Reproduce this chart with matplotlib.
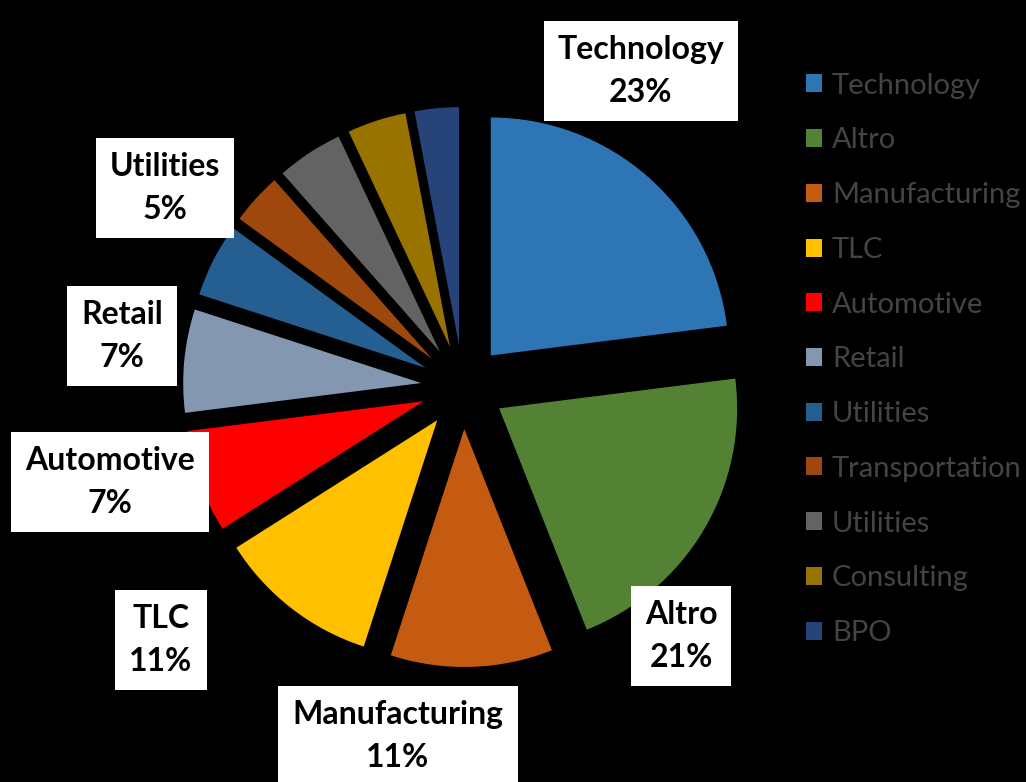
import matplotlib
matplotlib.use("Agg")
import matplotlib.pyplot as plt

# ---- data -------------------------------------------------------------
sectors = ["Technology", "Altro", "Manufacturing", "TLC", "Automotive", "Retail",
           "Utilities", "Transportation", "Utilities", "Consulting", "BPO"]
shares = [23, 21, 11, 11, 7, 7, 5, 3.5, 4.5, 4, 3]
colors = ["#2E75B6", "#548235", "#C55A11", "#FFC000", "#FF0000", "#8497B0",
          "#255E91", "#9E480E", "#636363", "#997300", "#264478"]
n_labelled = 7  # only the first seven slices carry a data label

# ---- layout (pixel space) ---------------------------------------------
W, H = 1026, 782
CX, CY = 463, 387      # pie centre, measured from the top-left
RADIUS = 238
EXPLODE = 42
label_xy = [(641, 71), (681, 636), (398, 736), (161, 640),
            (110, 482), (122, 336), (165, 188)]

plt.rcParams["font.family"] = ["Lato", "DejaVu Sans"]

fig = plt.figure(figsize=(W / 100, H / 100), dpi=100, facecolor="black")
ax = fig.add_axes([0, 0, 1, 1])
ax.set_facecolor("black")

wedges, _ = ax.pie(shares, colors=colors, startangle=90, counterclock=False,
                   radius=RADIUS, center=(CX, H - CY),
                   explode=[EXPLODE] * len(shares),
                   wedgeprops=dict(linewidth=0))
ax.set_xlim(0, W)
ax.set_ylim(0, H)
ax.set_aspect("equal")
ax.axis("off")

total = sum(shares)
for i in range(n_labelled):
    pct = round(shares[i] / total * 100)
    x, y = label_xy[i]
    ax.text(x, H - y, f"{sectors[i]}\n{pct}%", ha="center", va="center",
            fontsize=23, fontweight="bold", color="black", linespacing=1.6,
            bbox=dict(boxstyle="square,pad=0.44", facecolor="white",
                      edgecolor="none"))

ax.legend(wedges, sectors, loc="upper left", bbox_to_anchor=(794 / W, 1 - 61 / H),
          frameon=False, fontsize=21, labelcolor="#444444",
          handlelength=0.57, handleheight=0.57, handletextpad=0.33,
          labelspacing=0.985, borderaxespad=0)

fig.savefig("out.png", dpi=100, facecolor="black")
